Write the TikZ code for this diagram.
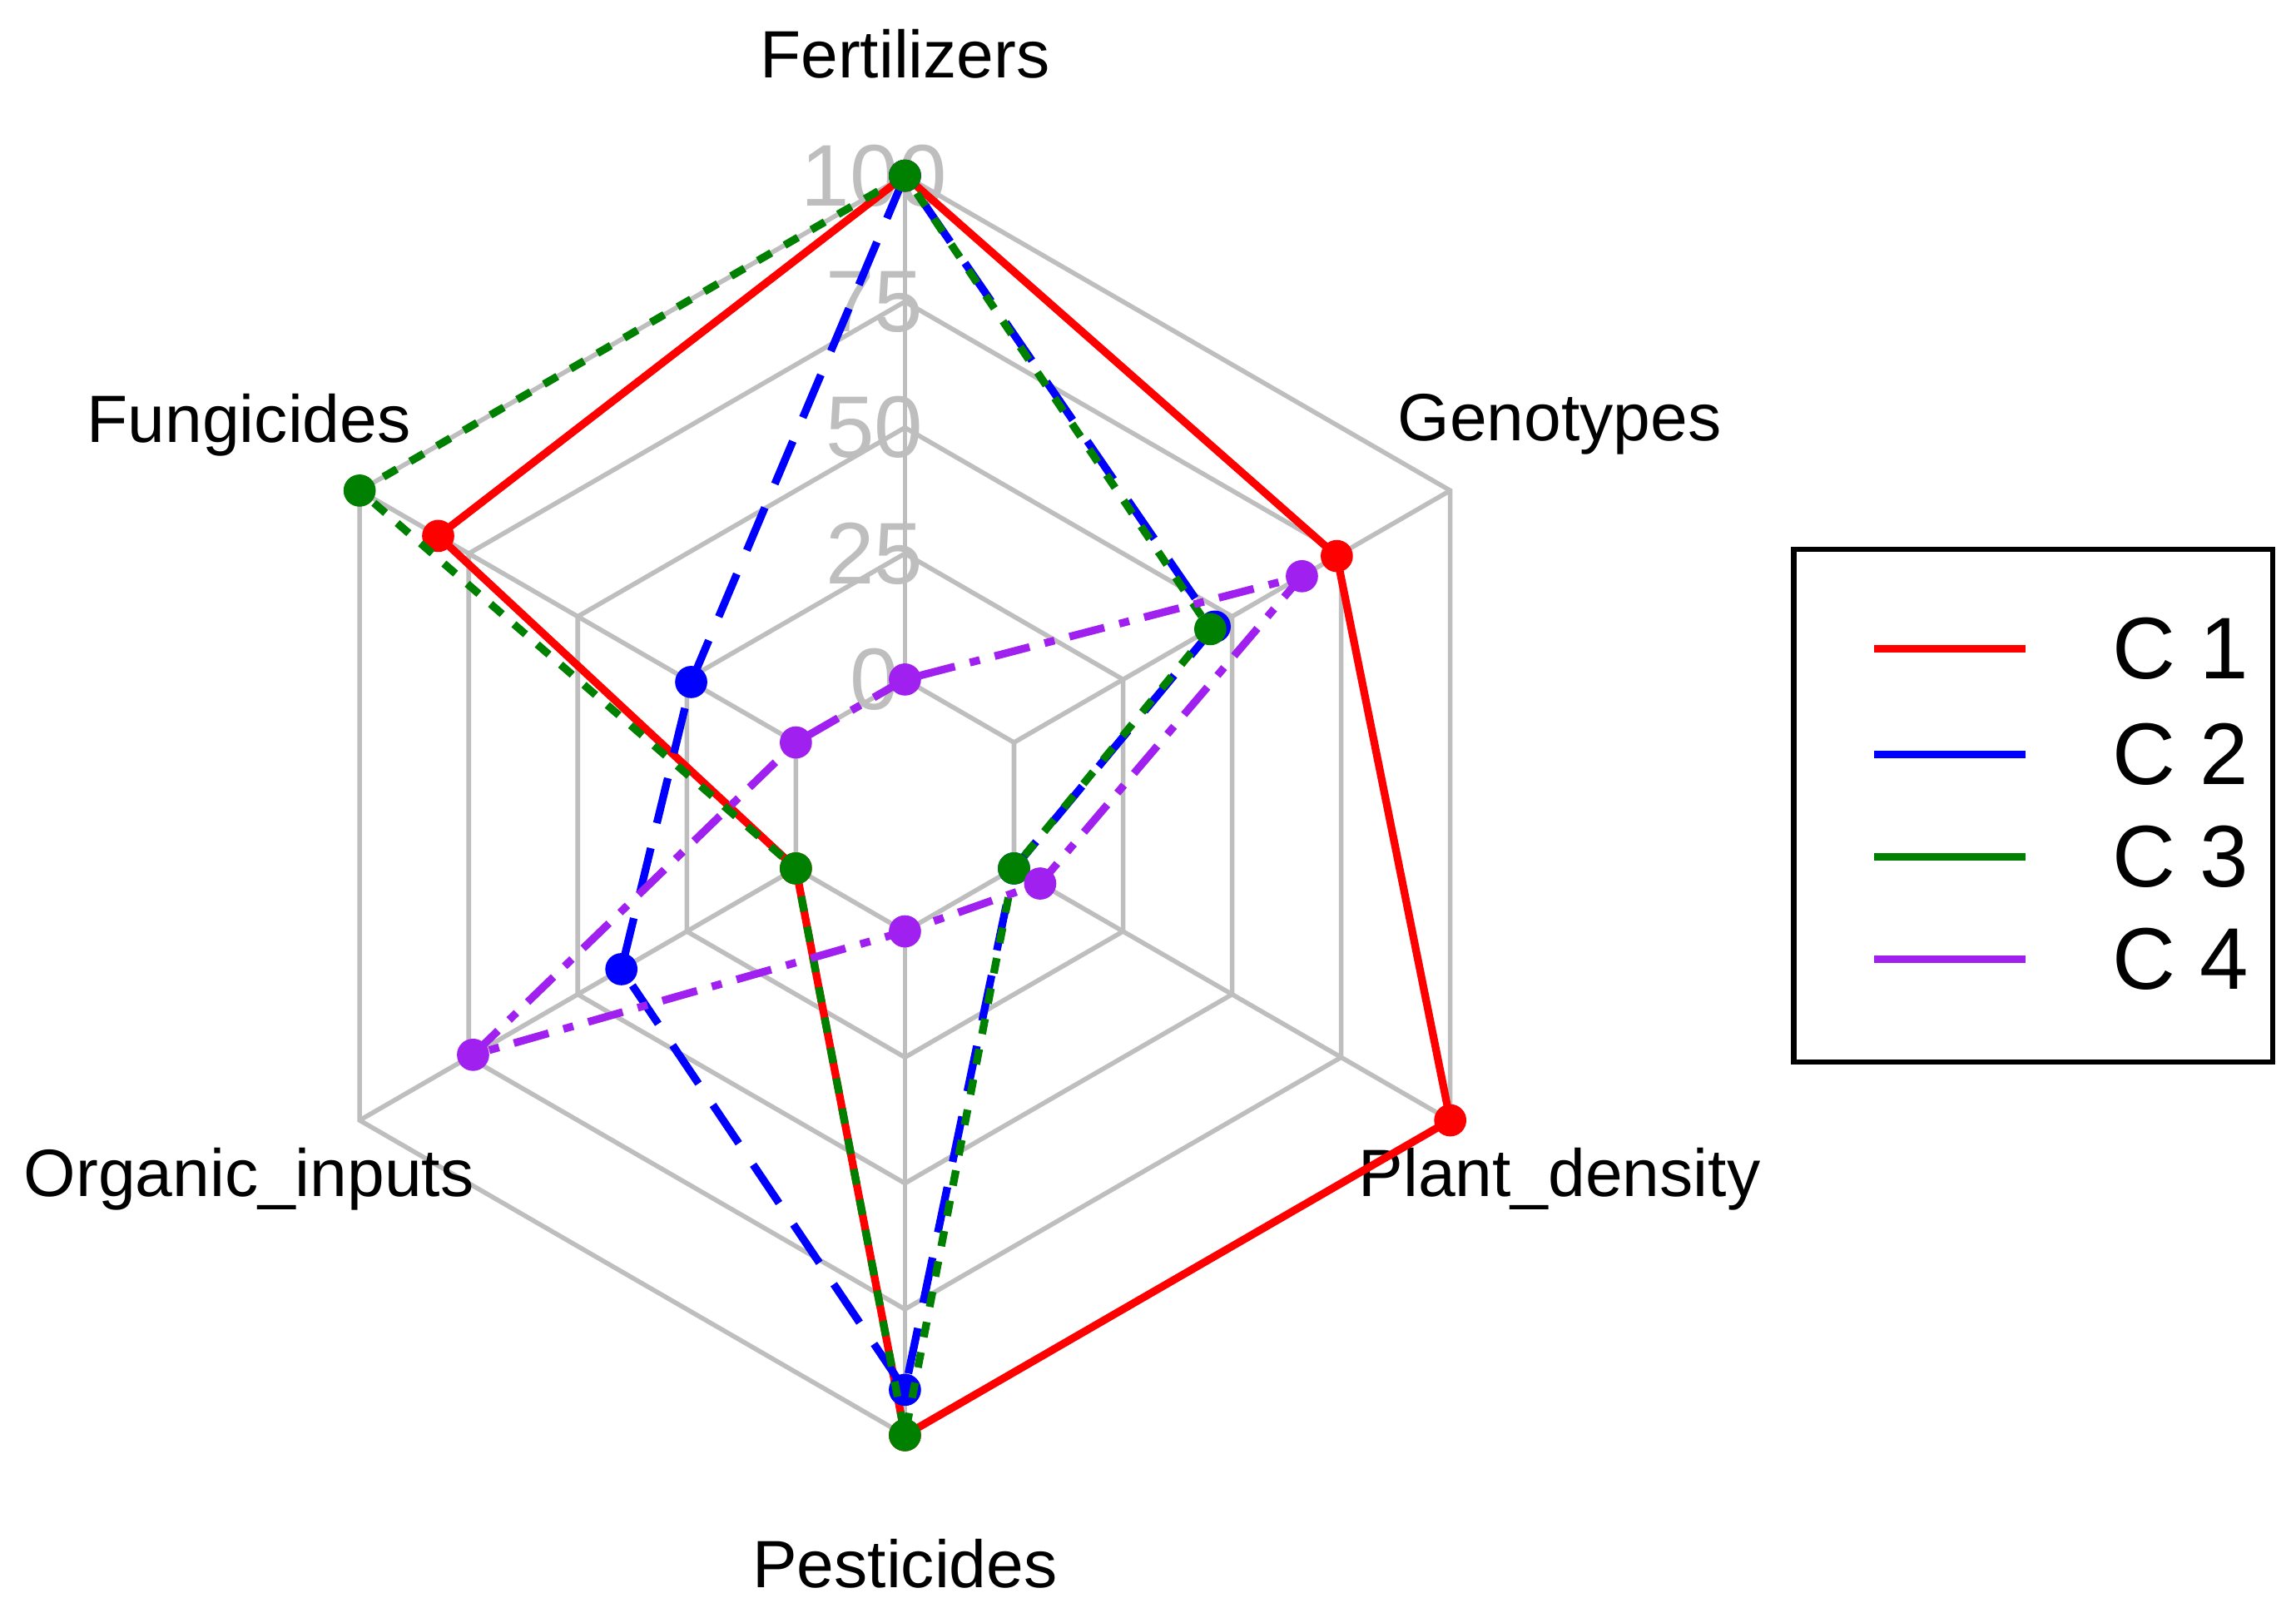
\documentclass[tikz,border=0pt]{standalone}
\usepackage{fontspec}
\setmainfont{Liberation Sans}
\definecolor{cred}{RGB}{255,0,0}
\definecolor{cblue}{RGB}{0,0,255}
\definecolor{cgreen}{RGB}{0,128,0}
\definecolor{cpurple}{RGB}{160,32,240}
\definecolor{gridc}{RGB}{190,190,190}
\tikzset{
  gridline/.style={gridc, line width=0.9pt},
  ser/.style={line width=1.5pt},
  lab/.style={font=\fontsize{13}{15}\selectfont},
  num/.style={font=\fontsize{17}{19}\selectfont, text=gridc},
}
\newcommand{\rad}[1]{{4.3*(1+4*(#1)/100)/5}}
\newcommand{\series}[7]{%
  \draw[ser,#1] ($(c)+(90:\rad{#2})$) -- ($(c)+(150:\rad{#3})$) -- ($(c)+(210:\rad{#4})$) -- ($(c)+(270:\rad{#5})$) -- ($(c)+(330:\rad{#6})$) -- ($(c)+(30:\rad{#7})$) -- cycle;
  \foreach \a/\v in {90/#2,150/#3,210/#4,270/#5,330/#6,30/#7}{\fill[#1] ($(c)+(\a:\rad{\v})$) circle (0.11);}
}
\usetikzlibrary{calc}
\begin{document}
\begin{tikzpicture}
\useasboundingbox[fill=white] (0,0) rectangle (15.68,11.01);
\coordinate (c) at (6.18,5.51);
\foreach \k in {1,...,5}{
  \draw[gridline] (90:0.86*\k) ++(c) -- ($(c)+(150:0.86*\k)$) -- ($(c)+(210:0.86*\k)$) -- ($(c)+(270:0.86*\k)$) -- ($(c)+(330:0.86*\k)$) -- ($(c)+(30:0.86*\k)$) -- cycle;
}
\foreach \a in {30,90,...,330}{\draw[gridline] ($(c)+(\a:0.86)$) -- ($(c)+(\a:4.3)$);}
\foreach \k/\t in {1/0,2/25,3/50,4/75,5/100}{\node[num] (n\k) at ($(c)+(-0.21,0.86*\k)$) {\t};}
\node[lab] (l1) at (6.18,10.64) {Fertilizers};
\node[lab] (l2) at (1.70,8.11) {Fungicides};
\node[lab] (l3) at (1.70,2.96) {Organic\_inputs};
\node[lab] (l4) at (6.18,0.33) {Pesticides};
\node[lab] (l5) at (10.65,2.96) {Plant\_density};
\node[lab] (l6) at (10.65,8.11) {Genotypes};
\series{cred}{100}{82}{0}{100}{100}{74}
\series{cblue,dash pattern=on 9pt off 5pt}{100}{24}{40}{91}{0}{46}
\series{cgreen,dash pattern=on 3pt off 3pt}{100}{100}{0}{100}{0}{45}
\series{cpurple,dash pattern=on 7pt off 3pt on 2pt off 3pt}{0}{0}{74}{0}{6}{66}
\draw[line width=1pt] (12.25,7.26) rectangle (15.52,3.76);
\foreach \y/\col/\t in {6.58/cred/1,5.86/cblue/2,5.16/cgreen/3,4.46/cpurple/4}{
  \draw[ser,\col] (12.80,\y) -- (13.83,\y);
  \node[anchor=west,font=\fontsize{17}{19}\selectfont] (e\t) at (14.30,\y) {C \t};
}
\end{tikzpicture}
\end{document}
